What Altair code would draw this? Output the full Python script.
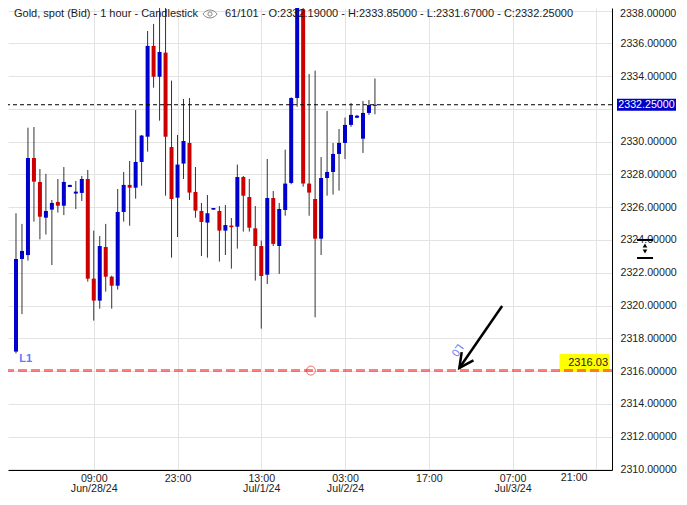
import altair as alt
import pandas as pd

# ---- candle data (hour index from first visible bar) ----
hours = list(range(61))
opens = [2317.19, 2322.84, 2323.08, 2329.00, 2327.54, 2325.36, 2325.85, 2326.32, 2326.09, 2327.23,
         2326.83, 2326.87, 2327.72, 2321.64, 2320.30, 2323.57, 2321.76, 2321.21, 2325.71, 2327.36,
         2327.19, 2328.76, 2330.30, 2335.84, 2333.96, 2335.43, 2329.67, 2326.58, 2328.66, 2329.92,
         2326.93, 2325.77, 2325.06, 2325.85, 2325.77, 2324.57, 2324.88, 2324.81, 2327.84, 2326.62,
         2324.71, 2323.63, 2321.88, 2326.56, 2323.63, 2325.83, 2327.48, 2332.66, 2338.07, 2327.44,
         2326.50, 2324.08, 2327.78, 2328.15, 2329.25, 2329.92, 2331.02, 2331.46, 2330.18, 2331.75,
         2332.19]
highs = [2325.63, 2324.98, 2330.85, 2330.89, 2328.33, 2328.03, 2326.44, 2327.72, 2328.45, 2327.36,
         2327.60, 2327.90, 2328.27, 2324.57, 2324.24, 2324.98, 2321.82, 2327.11, 2328.15, 2328.82,
         2331.93, 2330.40, 2336.75, 2337.18, 2338.80, 2338.80, 2333.72, 2330.41, 2332.60, 2332.66,
         2328.45, 2326.26, 2326.74, 2325.95, 2326.07, 2326.13, 2325.34, 2328.60, 2327.90, 2327.72,
         2326.07, 2323.96, 2328.94, 2326.99, 2326.26, 2329.51, 2332.70, 2338.30, 2338.80, 2334.13,
         2334.33, 2329.06, 2331.87, 2329.92, 2330.77, 2331.47, 2332.36, 2331.63, 2332.48, 2332.54,
         2333.85]
lows = [2317.08, 2319.48, 2322.74, 2325.12, 2324.04, 2324.33, 2322.47, 2325.67, 2325.52, 2327.23,
        2325.89, 2326.38, 2321.46, 2319.08, 2319.81, 2320.85, 2319.81, 2320.97, 2325.12, 2324.87,
        2326.52, 2327.31, 2329.39, 2333.29, 2331.28, 2326.70, 2322.92, 2324.18, 2327.72, 2326.44,
        2325.36, 2323.02, 2322.92, 2325.85, 2322.68, 2323.08, 2322.25, 2323.47, 2324.51, 2324.51,
        2321.52, 2318.59, 2321.31, 2323.63, 2321.93, 2325.48, 2327.40, 2332.13, 2327.25, 2325.48,
        2319.28, 2323.08, 2326.70, 2326.77, 2327.01, 2328.94, 2330.90, 2331.43, 2329.31, 2331.63,
        2331.67]
closes = [2322.84, 2323.33, 2329.00, 2327.56, 2325.42, 2325.77, 2326.26, 2326.09, 2327.54, 2327.36,
          2326.95, 2327.72, 2321.64, 2320.30, 2323.63, 2321.76, 2321.21, 2325.71, 2327.36, 2327.19,
          2328.76, 2330.37, 2335.84, 2333.96, 2335.47, 2330.30, 2326.50, 2328.60, 2330.04, 2326.89,
          2325.79, 2325.10, 2325.63, 2325.95, 2324.57, 2324.91, 2324.78, 2327.84, 2326.70, 2324.75,
          2323.63, 2321.80, 2326.56, 2323.76, 2325.89, 2327.44, 2332.66, 2338.17, 2327.44, 2326.89,
          2324.08, 2327.78, 2328.15, 2329.25, 2329.92, 2331.02, 2331.63, 2331.58, 2331.75, 2332.23,
          2332.25]

# ---- axes ----
tick_hours = [13, 27, 41, 55, 69, 83, 97]
tick_times = ["09:00", "23:00", "13:00", "03:00", "17:00", "07:00", "21:00"]
tick_dates = ["Jun/28/24", "", "Jul/1/24", "Jul/2/24", "", "Jul/3/24", ""]
price_ticks = list(range(2310, 2339, 2))

# ---- annotations ----
header_left = "Gold, spot (Bid) - 1 hour - Candlestick"
header_right = "61/101 - O:2332.19000 - H:2333.85000 - L:2331.67000 - C:2332.25000"
last_price = 2332.25
level_price = 2316.03
level_text = "2316.03"
level_name = "L1"
level_anchor_hour = 49.3
arrow_start = [81.26, 2319.97]
arrow_tip = [74.11, 2316.19]
arrow_name = "L0"
arrow_label_pos = [73.7, 2317.29]
last_label_hour = 93.3

BLUE = "#0000cc"
RED = "#cc0000"
FONT = "Liberation Sans"

df = pd.DataFrame({"i": hours, "o": opens, "h": highs, "l": lows, "c": closes})
df["dir"] = ["up" if c >= o else "down" for o, c in zip(opens, closes)]

xs = alt.Scale(domain=[-0.5, 98.79], nice=False, zero=False)
ys = alt.Scale(domain=[2309.965, 2338.153], nice=False, zero=False)

label_parts = []
for h, t, d in zip(tick_hours, tick_times, tick_dates):
    if h == 97:
        continue
    if d:
        label_parts.append(f"datum.value == {h} ? ['{t}', '{d}']")
    else:
        label_parts.append(f"datum.value == {h} ? '{t}'")
x_label_expr = " : ".join(label_parts) + " : ''"

top_price = price_ticks[-1]
x_axis = alt.Axis(values=tick_hours, orient="bottom", title=None, ticks=False, labelPadding=3,
                  grid=True, gridColor="#e3e3e3", gridWidth=1, domainColor="#000000", domainWidth=1,
                  labelExpr=x_label_expr, labelAngle=0, labelFlush=False, labelLineHeight=10.5,
                  labelFontSize=10.67, labelColor="#222222", labelFont=FONT)
y_axis = alt.Axis(values=price_ticks, orient="right", title=None, ticks=False, labelPadding=8,
                  grid=True, gridColor="#e3e3e3", gridWidth=1, domainColor="#000000", domainWidth=1,
                  labelExpr=f"datum.value == 2332 || datum.value == {top_price} ? '' : format(datum.value, '.5f')",
                  labelFontSize=10.67, labelColor="#222222", labelFont=FONT, labelFlush=False)


def X(field):
    return alt.X(field, scale=xs, axis=x_axis)


def Y(field):
    return alt.Y(field, scale=ys, axis=y_axis)


wicks = alt.Chart(df).mark_rule(color="#333333", strokeWidth=1).encode(
    x=X("i:Q"), y=Y("l:Q"), y2="h:Q")
bodies = alt.Chart(df).mark_bar(size=4).encode(
    x=X("i:Q"), y=Y("o:Q"), y2="c:Q",
    color=alt.Color("dir:N", scale=alt.Scale(domain=["up", "down"], range=[BLUE, RED]), legend=None),
)

top_lbl = alt.Chart(pd.DataFrame({"p": [top_price], "t": [f"{top_price:.5f}"]})).mark_text(
    color="#222222", fontSize=10.67, font=FONT, align="left", baseline="middle", dy=3.5).encode(
    x=alt.value(612), y=Y("p:Q"), text="t:N")

last_df = pd.DataFrame({"p": [last_price], "top": [last_price + 0.37], "bot": [last_price - 0.37],
                        "t": [f"{last_price:.5f}"]})
last_line = alt.Chart(last_df).mark_rule(color="#000000", strokeWidth=1, strokeDash=[4, 3]).encode(
    y=Y("p:Q"))
last_box = alt.Chart(last_df).mark_rect(color="#0000c8").encode(
    x=alt.value(609), x2=alt.value(668), y=Y("top:Q"), y2="bot:Q")
last_txt = alt.Chart(last_df).mark_text(color="#ffffff", fontSize=10.67, font=FONT, align="center",
                                        baseline="middle").encode(
    x=alt.value(638.5), y=Y("p:Q"), text="t:N")

lvl_df = pd.DataFrame({"p": [level_price], "top": [level_price + 1.01], "bot": [level_price - 0.05],
                       "mid": [level_price + 0.48], "t": [level_text], "ax": [level_anchor_hour],
                       "nm": [level_name], "nmx": [0.55], "nmy": [level_price + 0.71]})
lvl_box = alt.Chart(lvl_df).mark_rect(color="#ffff00").encode(
    x=alt.value(551.5), x2=alt.value(601.5), y=Y("top:Q"), y2="bot:Q")
lvl_txt = alt.Chart(lvl_df).mark_text(color="#222222", fontSize=11, font=FONT, align="right",
                                      baseline="middle").encode(
    x=alt.value(600), y=Y("mid:Q"), text="t:N")
lvl_line = alt.Chart(lvl_df).mark_rule(color="#ff0000", opacity=0.5, strokeWidth=3,
                                       strokeDash=[9, 4]).encode(y=Y("p:Q"))
lvl_circle = alt.Chart(lvl_df).mark_point(shape="circle", filled=False, color="#e03030", size=80,
                                          strokeWidth=1).encode(x=X("ax:Q"), y=Y("p:Q"))
lvl_name = alt.Chart(lvl_df).mark_text(color="#5b7cf5", fontSize=11, font=FONT, fontWeight="bold",
                                       align="left", baseline="middle").encode(
    x=X("nmx:Q"), y=Y("nmy:Q"), text="nm:N")

arr_df = pd.DataFrame({"x": [arrow_start[0]], "y": [arrow_start[1]], "x2": [arrow_tip[0]],
                       "y2": [arrow_tip[1]], "lx": [arrow_label_pos[0]], "ly": [arrow_label_pos[1]],
                       "nm": [arrow_name]})
arr_shaft = alt.Chart(arr_df).mark_rule(color="#000000", strokeWidth=2.5).encode(
    x=X("x:Q"), y=Y("y:Q"), x2="x2:Q", y2="y2:Q")
arr_head = alt.Chart(arr_df).mark_point(shape="M -0.5 -1 L 0 0 L 0.5 -1", filled=False,
                                        color="#000000", strokeWidth=2.5, size=820, angle=35,
                                        opacity=1).encode(x=X("x2:Q"), y=Y("y2:Q"))
arr_name = alt.Chart(arr_df).mark_text(color="#5b7cf5", fontSize=11, font=FONT, angle=125,
                                       align="center", baseline="middle").encode(
    x=X("lx:Q"), y=Y("ly:Q"), text="nm:N")

hdr_df = pd.DataFrame({"a": [header_left], "b": [header_right]})
hdr_a = alt.Chart(hdr_df).mark_text(color="#1a1a1a", fontSize=11, font=FONT, align="left",
                                    baseline="middle").encode(
    x=alt.value(6), y=alt.value(6), text="a:N")
hdr_b = alt.Chart(hdr_df).mark_text(color="#1a1a1a", fontSize=11, font=FONT, align="left",
                                    baseline="middle").encode(
    x=alt.value(217), y=alt.value(6), text="b:N")
eye = alt.Chart(hdr_df).mark_point(shape="M -1 0 C -0.5 -0.75 0.5 -0.75 1 0 C 0.5 0.75 -0.5 0.75 -1 0 Z",
                                   filled=False, color="#8a8a8a", size=200, strokeWidth=1,
                                   opacity=1).encode(x=alt.value(202), y=alt.value(6))
eye_in = alt.Chart(hdr_df).mark_point(shape="circle", filled=False, color="#8a8a8a", size=18,
                                      strokeWidth=1, opacity=1).encode(x=alt.value(202), y=alt.value(6))

wid_lines = alt.Chart(pd.DataFrame({"y": [2324.0, 2322.90]})).mark_rule(
    color="#000000", strokeWidth=2).encode(
    x=alt.value(629), x2=alt.value(645), y=Y("y:Q"))
wid_arrows = alt.Chart(pd.DataFrame({"y": [2323.66, 2323.30], "s": ["triangle-up", "triangle-down"]})
                       ).mark_point(filled=True, color="#000000", size=22, opacity=1).encode(
    x=alt.value(637), y=Y("y:Q"), shape=alt.Shape("s:N", scale=None))

last_tick = alt.Chart(pd.DataFrame({"x": [last_label_hour], "t": [tick_times[-1]]})).mark_text(
    color="#222222", fontSize=10.67, font=FONT, align="center", baseline="top").encode(
    x=X("x:Q"), y=alt.value(465), text="t:N")

chart = alt.layer(
    wicks, bodies, top_lbl, last_line, lvl_box, lvl_line, lvl_txt, lvl_circle, lvl_name,
    arr_shaft, arr_head, arr_name, hdr_a, hdr_b, eye, eye_in,
    last_box, last_txt, wid_lines, wid_arrows, last_tick,
).properties(
    width=604, height=462,
    autosize=alt.AutoSizeParams(type="none"),
    padding={"left": 0, "top": 0, "right": 67, "bottom": 26},
    background="#ffffff",
).configure(font=FONT).configure_view(strokeWidth=0)

chart.save("out.html", embed_options={"renderer": "svg", "actions": False})
